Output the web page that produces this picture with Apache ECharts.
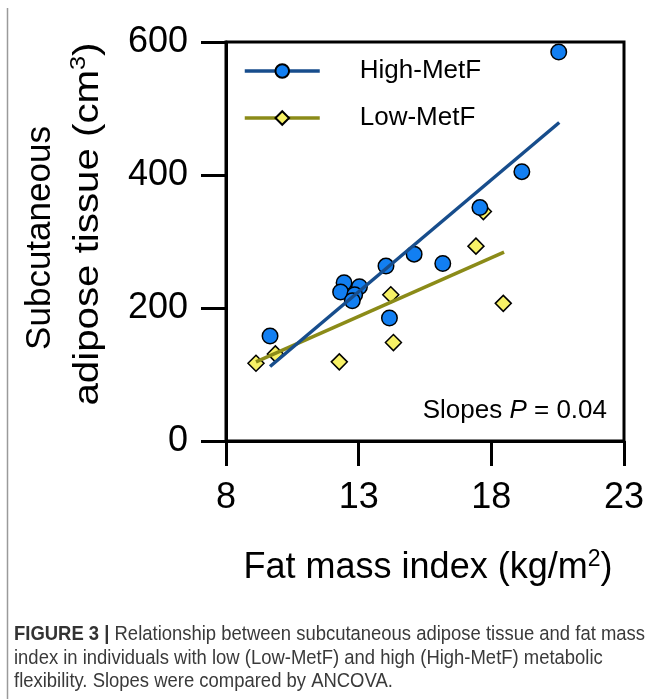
<!DOCTYPE html>
<html>
<head>
<meta charset="utf-8">
<script src="https://cdn.jsdelivr.net/npm/echarts@6/dist/echarts.min.js"></script>
<style>
html,body{margin:0;padding:0;background:#fff;}
#chart{width:655px;height:699px;}
</style>
</head>
<body>
<div id="chart"></div>
<script>
// ---- data ----
var seriesNames = ['High-MetF', 'Low-MetF'];
var highX = [20.54, 19.15, 17.57, 15.09, 16.17, 14.03, 12.45, 12.32, 13.03, 12.85, 12.76, 14.16, 9.66];
var highY = [585, 405, 351, 281, 267, 263, 238, 224, 232, 220, 211, 185, 158];
var lowX = [18.45, 17.42, 17.70, 14.21, 14.31, 12.27, 9.86, 9.13];
var lowY = [207, 293, 345, 220, 148, 119, 131, 117];
var highFitX = [9.66, 20.56];
var highFitY = [112, 479];
var lowFitX = [9.13, 18.48];
var lowFitY = [119, 284];
var xTicks = [8, 13, 18, 23];
var yTicks = [0, 200, 400, 600];
var captionBold = 'FIGURE 3 |';
var captionLines = [
  ' Relationship between subcutaneous adipose tissue and fat mass',
  'index in individuals with low (Low-MetF) and high (High-MetF) metabolic',
  'flexibility. Slopes were compared by ANCOVA.'
];

function pairs(xs, ys) { return xs.map(function (x, i) { return [x, ys[i]]; }); }

var FONT = '"Liberation Sans", Arial, sans-serif';
var CAPFONT = '"Liberation Sans", Arial, sans-serif';
var CAPSIZE = 20.5;

// measure caption first line to fit the reference width (condensed look)
var cv = document.createElement('canvas').getContext('2d');
cv.font = 'bold ' + CAPSIZE + 'px ' + CAPFONT;
var wB = cv.measureText(captionBold).width;
cv.font = CAPSIZE + 'px ' + CAPFONT;
var wN = cv.measureText(captionLines[0]).width;
var capScale = 631 / (wB + wN);

var chart = echarts.init(document.getElementById('chart'), null, {renderer: 'canvas'});

var option = {
  backgroundColor: '#fff',
  animation: false,
  grid: {left: 226, top: 42, width: 398, height: 399, show: true, borderColor: '#000', borderWidth: 3, backgroundColor: 'transparent'},
  xAxis: {
    type: 'value', min: xTicks[0], max: xTicks[xTicks.length - 1], interval: xTicks[1] - xTicks[0],
    axisLine: {show: true, lineStyle: {color: '#000', width: 3}},
    axisTick: {show: true, inside: false, length: 25, lineStyle: {color: '#000', width: 3}},
    axisLabel: {color: '#000', fontSize: 36, fontFamily: FONT, margin: 39},
    splitLine: {show: false}
  },
  yAxis: {
    type: 'value', min: yTicks[0], max: yTicks[yTicks.length - 1], interval: yTicks[1] - yTicks[0],
    axisLine: {show: true, lineStyle: {color: '#000', width: 3}},
    axisTick: {show: true, inside: false, length: 25, lineStyle: {color: '#000', width: 3}},
    axisLabel: {color: '#000', fontSize: 36, fontFamily: FONT, margin: 38},
    splitLine: {show: false}
  },
  legend: {
    left: 243, top: 56, padding: 0, orient: 'vertical', itemWidth: 75, itemHeight: 17, itemGap: 17,
    data: seriesNames,
    lineStyle: {width: 3.5},
    textStyle: {color: '#000', fontSize: 26, fontFamily: FONT, lineHeight: 30, padding: [0, 0, 0, 35]}
  },
  series: [
    {
      name: 'Low-MetF pts', type: 'scatter', z: 2, symbol: 'diamond', symbolSize: 16,
      itemStyle: {color: '#f7f166', borderColor: '#000', borderWidth: 1.5, opacity: 1},
      data: pairs(lowX, lowY)
    },
    {
      name: 'High-MetF pts', type: 'scatter', z: 3, symbol: 'circle', symbolSize: 15.5,
      itemStyle: {color: '#127ff2', borderColor: '#000', borderWidth: 1.5, opacity: 1},
      data: pairs(highX, highY)
    },
    {
      name: 'Low-MetF', type: 'line', z: 4, symbol: 'diamond', showSymbol: false,
      itemStyle: {color: '#f7f166', borderColor: '#000', borderWidth: 1.2},
      lineStyle: {color: '#8b8b18', width: 3.5},
      data: pairs(lowFitX, lowFitY)
    },
    {
      name: 'High-MetF', type: 'line', z: 5, symbol: 'circle', showSymbol: false,
      itemStyle: {color: '#127ff2', borderColor: '#000', borderWidth: 1.2},
      lineStyle: {color: '#174d8c', width: 3.5},
      data: pairs(highFitX, highFitY)
    }
  ],
  graphic: [
    {type: 'line', shape: {x1: 7.5, y1: 8, x2: 7.5, y2: 699}, style: {stroke: '#9a9a9a', lineWidth: 1.5}, silent: true},
    {
      type: 'text', x: 428, y: 568,
      style: {
        text: '{b|Fat mass index (kg/m}{s|2}{b|)}', align: 'center', verticalAlign: 'middle',
        rich: {
          b: {fontSize: 36, fontFamily: FONT, fill: '#000', lineHeight: 40},
          s: {fontSize: 23, fontFamily: FONT, fill: '#000', lineHeight: 40, verticalAlign: 'top', padding: [0, 0, 12, 0]}
        }
      }
    },
    {
      type: 'text', x: 40, y: 238, rotation: Math.PI / 2,
      style: {text: 'Subcutaneous', align: 'center', verticalAlign: 'middle', fontSize: 35, fontFamily: FONT, fill: '#000'}
    },
    {
      type: 'text', x: 88, y: 224, rotation: Math.PI / 2, scaleX: 1.15,
      style: {
        text: '{b|adipose tissue (cm}{s|3}{b|)}', align: 'center', verticalAlign: 'middle',
        rich: {
          b: {fontSize: 35, fontFamily: FONT, fill: '#000', lineHeight: 40},
          s: {fontSize: 22, fontFamily: FONT, fill: '#000', lineHeight: 40, verticalAlign: 'top', padding: [0, 0, 12, 0]}
        }
      }
    },
    {
      type: 'text', x: 607, y: 411,
      style: {
        text: '{n|Slopes }{i|P}{n| = 0.04}', align: 'right', verticalAlign: 'middle',
        rich: {
          n: {fontSize: 26, fontFamily: FONT, fill: '#000'},
          i: {fontSize: 26, fontFamily: FONT, fill: '#000', fontStyle: 'italic'}
        }
      }
    },
    {
      type: 'text', x: 14, y: 623, scaleX: capScale,
      style: {
        text: '{b|' + captionBold + '}{n|' + captionLines[0] + '}\n{n|' + captionLines[1] + '}\n{n|' + captionLines[2] + '}',
        align: 'left', verticalAlign: 'top',
        rich: {
          b: {fontSize: CAPSIZE, fontFamily: CAPFONT, fontWeight: 'bold', fill: '#333', lineHeight: 23.5},
          n: {fontSize: CAPSIZE, fontFamily: CAPFONT, fill: '#3a3a3a', lineHeight: 23.5}
        }
      }
    }
  ]
};
chart.setOption(option);
</script>
</body>
</html>
